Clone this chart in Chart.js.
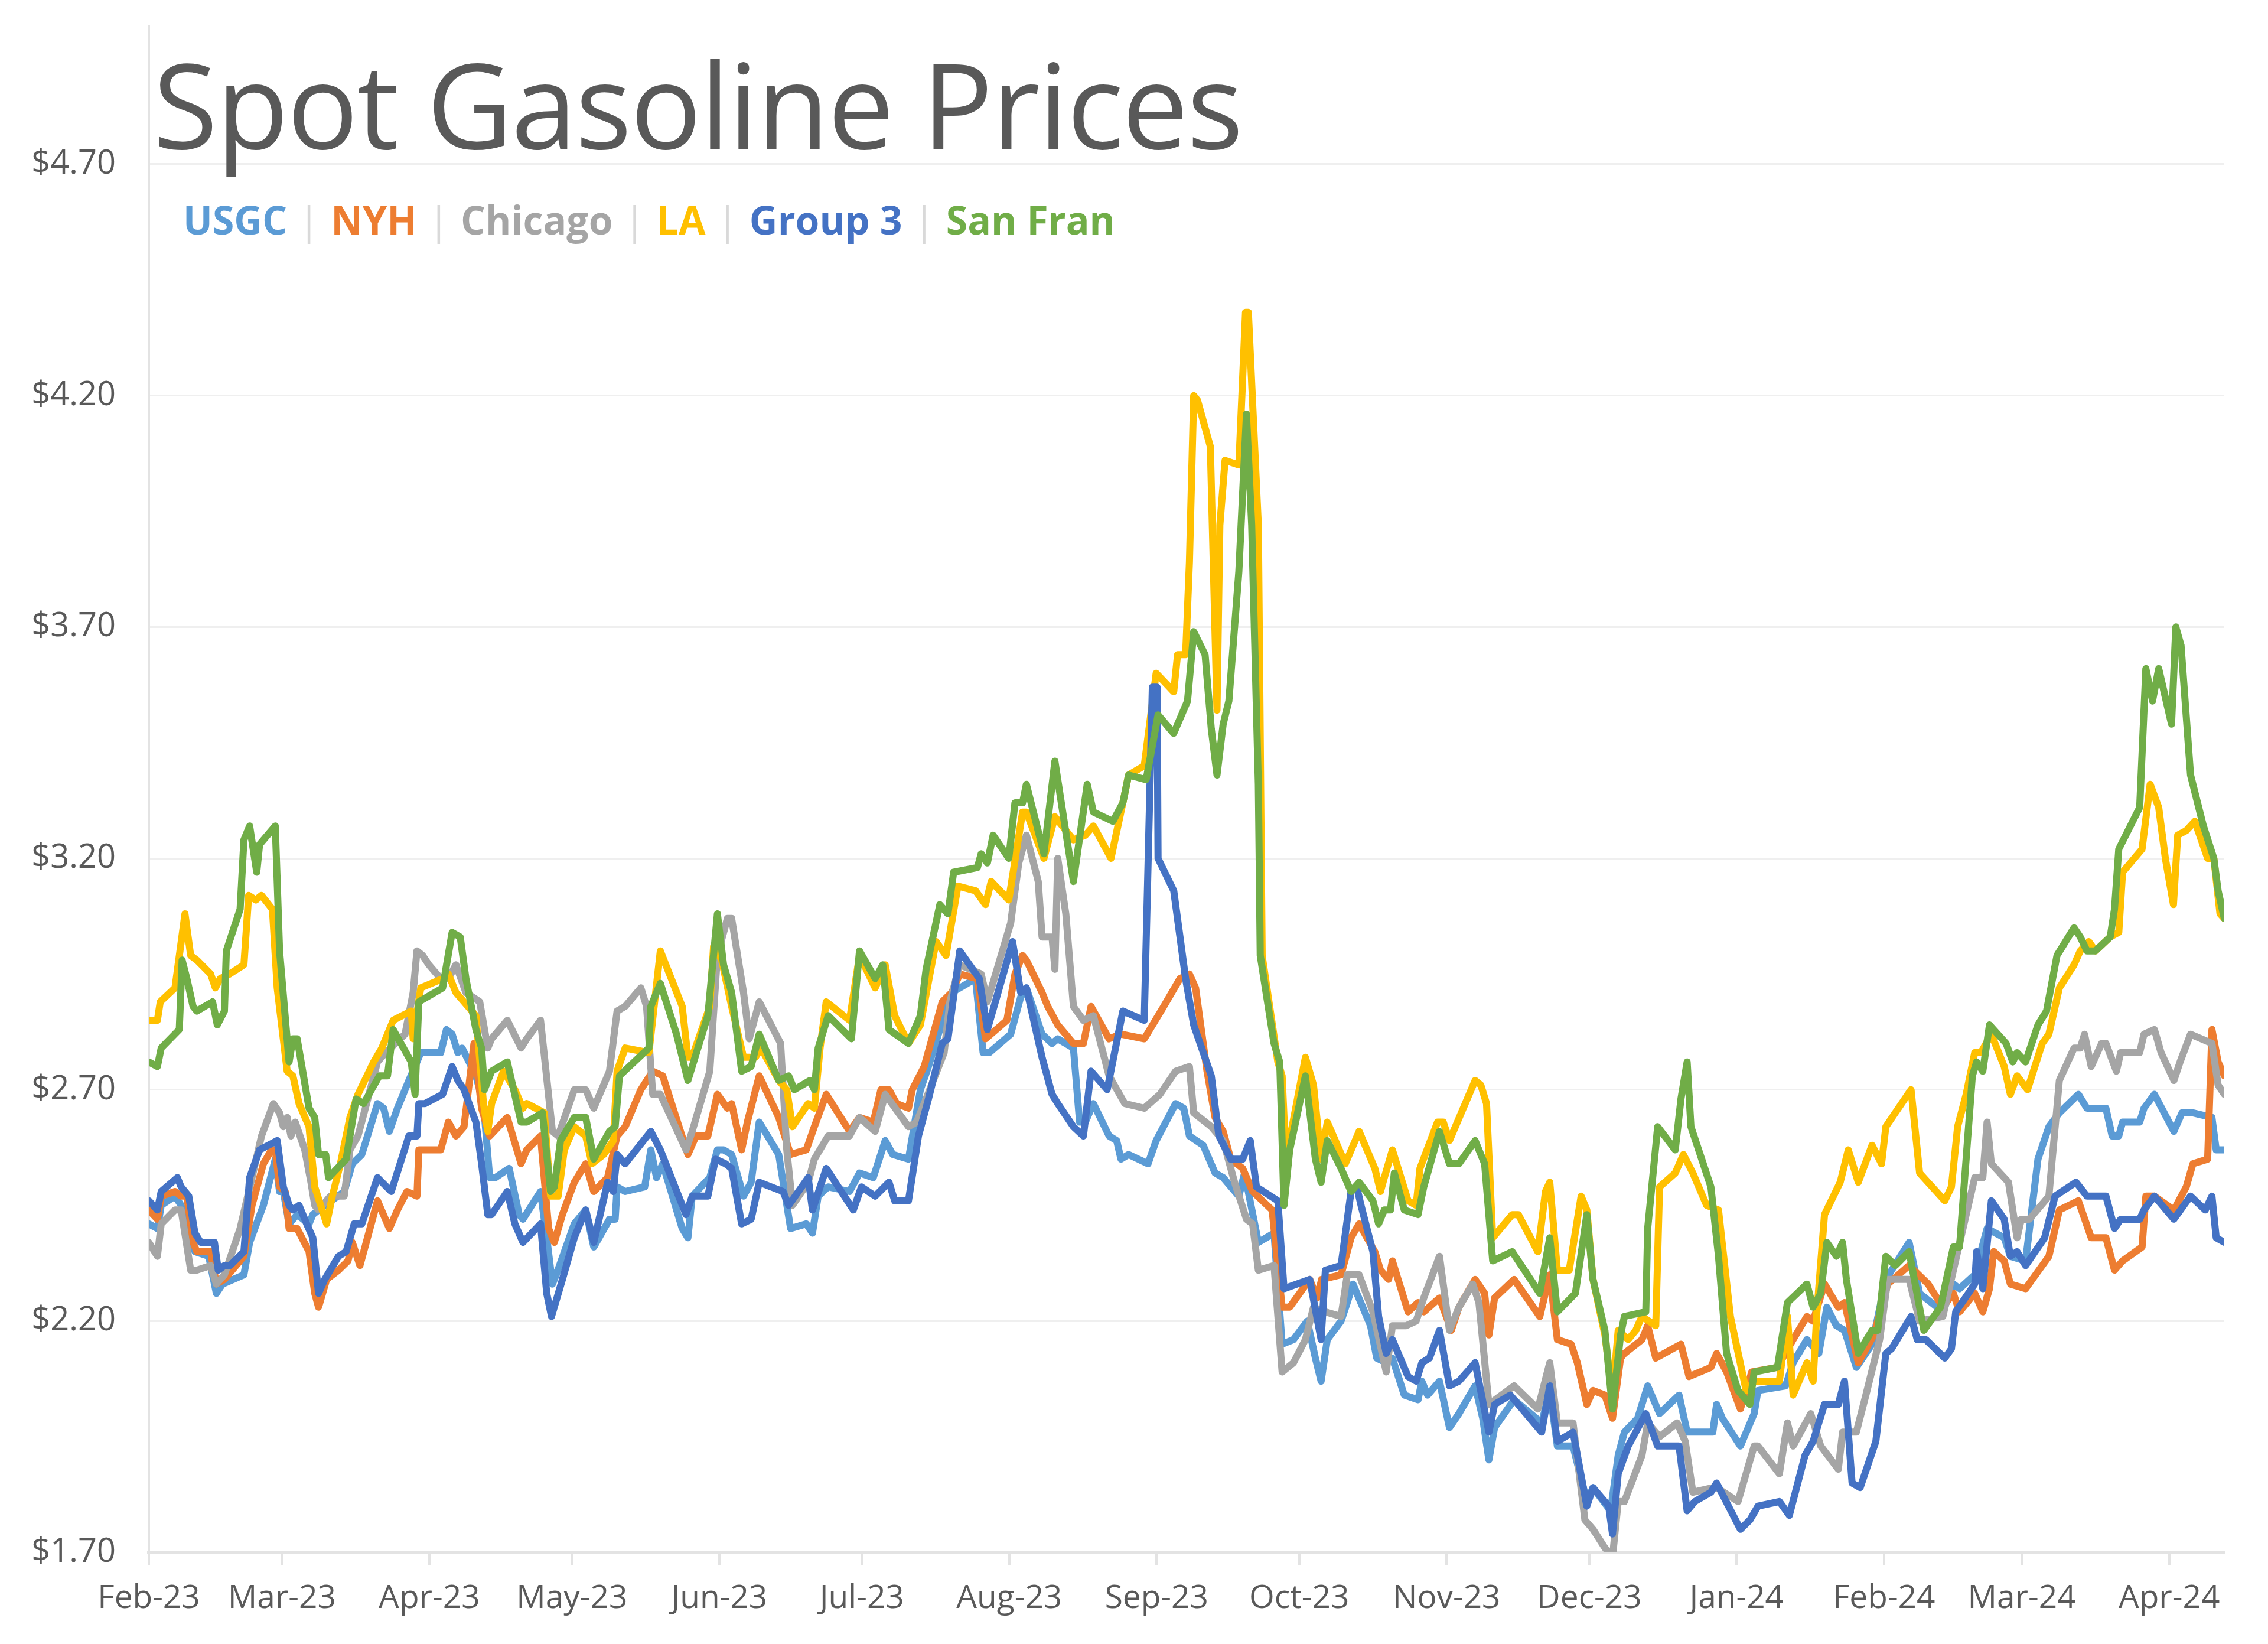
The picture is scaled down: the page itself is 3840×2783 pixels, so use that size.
<!DOCTYPE html>
<html>
<head>
<meta charset="utf-8">
<script src="https://cdn.jsdelivr.net/npm/chart.js@4.4.1/dist/chart.umd.min.js"></script>
<style>
  html, body { margin: 0; padding: 0; background: #fff; }
  #wrap { position: relative; width: 3840px; height: 2783px; overflow: hidden; }
  #chart { position: absolute; left: 0; top: 0; }
  #title {
    position: absolute; left: 259px; top: 75px;
    font-family: 'Open Sans', 'Noto Sans', sans-serif; font-size: 200px; line-height: 1;
    letter-spacing: -2.4px; color: #595959; white-space: nowrap;
  }
  #legend {
    position: absolute; left: 310px; top: 338px;
    font-family: 'Open Sans', 'Noto Sans', sans-serif; font-size: 66px; font-weight: 700; line-height: 1;
    white-space: nowrap; display: flex; align-items: baseline;
  }
  #legend .sep { color: #d9d9d9; font-weight: 400; margin: 0 19px; }
</style>
</head>
<body>
<div id="wrap">
  <canvas id="chart" width="3840" height="2783"></canvas>
  <div id="title">Spot Gasoline Prices</div>
  <div id="legend"></div>
</div>
<script>
// x values are days since 1 Feb 2023
const monthLabels = ['Feb-23', 'Mar-23', 'Apr-23', 'May-23', 'Jun-23', 'Jul-23', 'Aug-23', 'Sep-23',
                     'Oct-23', 'Nov-23', 'Dec-23', 'Jan-24', 'Feb-24', 'Mar-24', 'Apr-24'];
const yTicks = [1.70, 2.20, 2.70, 3.20, 3.70, 4.20, 4.70];
const yMin = 1.70;
const yMax = 5.00;
const lastDay = 436.6;

const seriesNames = ['USGC', 'NYH', 'Chicago', 'LA', 'Group 3', 'San Fran'];
const seriesColors = ['#5b9bd5', '#ed7d31', '#a5a5a5', '#ffc000', '#4472c4', '#70ad47'];

const usgcData = [[0,2.41],[1.8,2.40],[2.6,2.45],[5.5,2.47],[6.8,2.45],[7.6,2.42],[9.7,2.35],[12.6,2.34],[14.2,2.26],[15.5,2.28],[20,2.30],[21.2,2.37],[24.1,2.45],[26.6,2.55],[27.5,2.48],[28.3,2.48],[29.5,2.41],[31.2,2.43],[33.7,2.41],[34.5,2.43],[35.7,2.44],[41.1,2.48],[42.8,2.54],[44.8,2.56],[48.1,2.67],[49.4,2.66],[50.6,2.61],[52.3,2.66],[54.7,2.72],[56.4,2.76],[57.2,2.78],[61.4,2.78],[62.6,2.83],[63.8,2.82],[65,2.78],[65.9,2.79],[68.8,2.73],[70.4,2.67],[71.7,2.51],[72.9,2.51],[75.8,2.53],[77.9,2.43],[78.7,2.42],[82.4,2.48],[83.7,2.38],[84.9,2.28],[85.7,2.30],[89.5,2.41],[91.9,2.44],[93.6,2.36],[96.9,2.42],[98.1,2.42],[98.5,2.49],[100.2,2.48],[104.3,2.49],[105.6,2.57],[106.8,2.51],[108.1,2.54],[112.2,2.40],[113.4,2.38],[114.3,2.47],[118,2.51],[119.6,2.57],[120.9,2.57],[122.6,2.56],[125.1,2.47],[126.7,2.50],[128.4,2.63],[132.5,2.56],[135,2.40],[138.3,2.41],[139.6,2.39],[140.8,2.47],[142.9,2.49],[147.4,2.48],[149.5,2.52],[152.4,2.51],[154.9,2.59],[156.5,2.56],[159.8,2.55],[162.3,2.70],[164,2.75],[166.4,2.83],[168.9,2.91],[170.6,2.92],[173.9,2.94],[175.5,2.78],[176.8,2.78],[181.3,2.82],[183.4,2.90],[184.6,2.92],[187.9,2.82],[190,2.80],[191.2,2.81],[194.5,2.79],[195.8,2.63],[197,2.63],[198.7,2.67],[202,2.60],[203.6,2.59],[204.5,2.55],[206.1,2.56],[210.2,2.54],[211.9,2.59],[216,2.67],[217.7,2.66],[218.9,2.60],[221.8,2.58],[224.3,2.52],[226,2.51],[229.3,2.47],[230.5,2.52],[233.4,2.37],[236.7,2.39],[238.4,2.15],[240.8,2.16],[243.7,2.20],[245.4,2.12],[246.6,2.07],[247.9,2.16],[250.8,2.20],[252.1,2.24],[253.3,2.28],[257,2.19],[258.3,2.12],[260.3,2.11],[261.6,2.12],[264.1,2.04],[267,2.03],[267.8,2.07],[269,2.04],[271.5,2.07],[273.6,1.97],[275.6,2.00],[279,2.06],[280.6,1.99],[281.9,1.90],[283.1,1.97],[287.2,2.03],[293,1.98],[294.7,2.05],[296.3,1.93],[299.6,1.93],[302.5,1.81],[303.8,1.84],[307.5,1.79],[309.1,1.91],[310.4,1.96],[313.2,1.99],[315.3,2.06],[317.8,2.00],[321.9,2.04],[323.6,1.96],[329,1.96],[329.8,2.02],[331,1.99],[334.8,1.93],[337.7,2.00],[338.5,2.05],[344.3,2.06],[345.9,2.11],[348.8,2.16],[351.3,2.13],[353,2.23],[355,2.19],[356.7,2.18],[359.2,2.10],[362.5,2.15],[365.4,2.29],[370.3,2.37],[372.5,2.26],[377.4,2.22],[379.6,2.28],[380.9,2.27],[384.1,2.30],[386.7,2.40],[390.3,2.38],[391.6,2.34],[394.8,2.33],[397.4,2.55],[399.7,2.62],[401.9,2.65],[405.9,2.69],[407.7,2.66],[411.7,2.66],[413,2.60],[414.4,2.60],[415.2,2.63],[418.8,2.63],[419.7,2.66],[421.9,2.69],[426,2.61],[427.7,2.65],[430,2.65],[434,2.64],[434.9,2.57],[436.6,2.57]];

const nyhData = [[0,2.44],[1.8,2.42],[2.6,2.47],[5.5,2.48],[6.8,2.47],[8,2.47],[9.3,2.37],[10.1,2.35],[13,2.35],[14.2,2.28],[15.9,2.29],[20,2.34],[21.7,2.45],[24.1,2.54],[25.8,2.57],[26.6,2.57],[27.5,2.49],[28.7,2.48],[29.5,2.40],[31.2,2.40],[33.7,2.35],[34.9,2.26],[35.7,2.23],[37.4,2.29],[39.9,2.31],[41.9,2.33],[42.8,2.37],[44.4,2.32],[45.2,2.35],[48.1,2.46],[50.6,2.40],[52.3,2.44],[54.3,2.48],[56.4,2.47],[56.8,2.57],[61.4,2.57],[63,2.63],[64.6,2.60],[66.3,2.62],[68.4,2.80],[70,2.66],[71.7,2.60],[75.4,2.64],[78.3,2.54],[79.5,2.57],[82.4,2.60],[84.1,2.40],[85.3,2.37],[87,2.43],[89.5,2.50],[91.9,2.54],[93.6,2.48],[96.5,2.51],[98.5,2.60],[100.2,2.62],[103.5,2.70],[106,2.74],[108.1,2.73],[113.4,2.56],[115.1,2.60],[117.6,2.60],[119.6,2.69],[121.7,2.66],[122.6,2.67],[124.7,2.57],[125.9,2.63],[128.4,2.73],[132.5,2.64],[135,2.56],[138.3,2.57],[140,2.62],[142.5,2.69],[147.4,2.61],[149.5,2.64],[152.4,2.63],[154,2.70],[155.7,2.70],[157.3,2.67],[159.8,2.66],[160.6,2.70],[163.1,2.75],[166.9,2.89],[168.9,2.91],[170.6,2.95],[174.3,2.94],[176,2.81],[180.5,2.85],[182.2,2.95],[183.8,2.99],[184.6,2.98],[187.9,2.91],[189.1,2.88],[191.2,2.84],[194.5,2.80],[196.6,2.80],[198.2,2.88],[202,2.81],[204.5,2.82],[209.4,2.81],[213.5,2.88],[216.9,2.94],[218.9,2.95],[220.2,2.92],[222.6,2.74],[224.3,2.64],[226,2.61],[227.6,2.55],[230.1,2.53],[232.2,2.48],[236.3,2.44],[238.4,2.23],[240,2.23],[244.2,2.29],[245.8,2.25],[246.7,2.29],[250.8,2.30],[252.9,2.38],[254.6,2.41],[257.9,2.35],[259.1,2.31],[260.8,2.29],[261.6,2.33],[264.9,2.22],[267,2.24],[268.2,2.22],[271.5,2.25],[274,2.18],[275.6,2.23],[279,2.29],[281,2.26],[281.9,2.17],[283.1,2.25],[287.2,2.29],[292.6,2.21],[294.7,2.30],[296.3,2.16],[299.2,2.15],[300.5,2.11],[302.5,2.02],[303.8,2.05],[306.3,2.04],[307.9,1.99],[309.6,2.12],[310.4,2.13],[314.1,2.16],[315.3,2.19],[317,2.12],[322.3,2.15],[324,2.08],[328.6,2.10],[329.8,2.13],[331.9,2.09],[334.8,2.01],[337.2,2.09],[342.6,2.10],[345.9,2.16],[348.8,2.21],[350.1,2.20],[352.5,2.28],[355.4,2.23],[356.7,2.24],[359.6,2.11],[362.9,2.17],[365.8,2.28],[370.3,2.32],[374.3,2.28],[377.4,2.23],[379.6,2.26],[380.9,2.22],[384.1,2.26],[385.8,2.22],[387.2,2.27],[388.1,2.35],[390.3,2.33],[391.6,2.28],[394.8,2.27],[399.7,2.34],[401.9,2.44],[405.9,2.46],[408.6,2.38],[411.7,2.38],[413.5,2.31],[415.2,2.33],[419.3,2.36],[420.1,2.47],[421.9,2.47],[426,2.44],[428.6,2.49],[430,2.54],[433.1,2.55],[434,2.83],[435.3,2.76],[436.6,2.73]];

const chicagoData = [[0,2.37],[1.8,2.34],[2.6,2.41],[5.5,2.44],[6.8,2.44],[8.8,2.31],[10.1,2.31],[13,2.32],[14.2,2.28],[15.9,2.30],[19.2,2.40],[21.7,2.51],[23.7,2.60],[26.2,2.67],[27.5,2.65],[28.3,2.62],[29.1,2.64],[29.9,2.60],[30.8,2.63],[32.8,2.57],[34.1,2.50],[34.9,2.45],[35.7,2.44],[38.2,2.47],[41.1,2.47],[42.3,2.57],[44,2.60],[48.1,2.76],[49.8,2.78],[53.9,2.82],[55.6,2.91],[56.4,3.00],[57.6,2.99],[58.9,2.97],[61.4,2.94],[63,2.94],[64.6,2.97],[66.7,2.91],[69.6,2.89],[71.3,2.79],[72.1,2.81],[75.4,2.85],[78.3,2.79],[79.5,2.81],[82.4,2.85],[84.9,2.61],[86.1,2.60],[89.5,2.70],[91.9,2.70],[93.6,2.66],[96.9,2.74],[98.5,2.87],[100.2,2.88],[103.5,2.92],[104.7,2.88],[106,2.69],[107.6,2.69],[113,2.57],[114.3,2.61],[118,2.74],[119.6,2.99],[121.7,3.07],[122.6,3.07],[125.1,2.91],[126.3,2.81],[128.4,2.89],[132.9,2.80],[134.2,2.57],[135.4,2.45],[138.7,2.50],[140,2.55],[142.9,2.60],[147.4,2.60],[149.5,2.64],[152.8,2.61],[154.9,2.69],[159.8,2.62],[161.5,2.63],[163.5,2.68],[167.3,2.78],[168.5,2.89],[170.6,2.97],[175.1,2.95],[176.4,2.89],[181.3,3.06],[183,3.19],[184.6,3.25],[187.1,3.15],[187.9,3.03],[190,3.03],[190.6,2.96],[191.2,3.20],[192.9,3.08],[194.5,2.88],[196.6,2.85],[198.7,2.86],[202,2.73],[205.3,2.67],[209.4,2.66],[212.7,2.69],[216,2.74],[218.9,2.75],[219.8,2.65],[223.5,2.62],[226,2.59],[228.4,2.50],[230.9,2.42],[232.2,2.41],[233.4,2.31],[236.7,2.32],[238.4,2.09],[240.8,2.11],[243.3,2.16],[245,2.23],[247.5,2.22],[250.8,2.21],[252.1,2.30],[254.6,2.30],[257.5,2.22],[260.3,2.09],[261.6,2.19],[264.5,2.19],[266.6,2.20],[268.2,2.25],[271.5,2.34],[273.6,2.18],[275.6,2.23],[278.5,2.28],[279.8,2.24],[281.9,2.02],[287.2,2.06],[292.2,2.01],[294.7,2.11],[296.3,1.98],[299.6,1.98],[302.1,1.77],[303.8,1.75],[306.3,1.71],[307.9,1.69],[309.1,1.81],[310.4,1.81],[314.1,1.91],[315.3,1.98],[317.8,1.95],[321.5,1.98],[323.2,1.94],[324.8,1.83],[329,1.84],[329.8,1.84],[334.3,1.81],[337.7,1.93],[338.5,1.93],[343,1.87],[344.7,1.98],[345.9,1.93],[349.6,2.00],[351.7,1.93],[355.4,1.88],[356.3,1.96],[359.2,1.96],[361.2,2.04],[364.1,2.16],[365.8,2.29],[370.3,2.29],[372.5,2.20],[377.4,2.21],[380.5,2.35],[384.1,2.51],[385.8,2.51],[386.7,2.63],[387.6,2.54],[391.2,2.50],[393,2.38],[393.9,2.42],[395.6,2.42],[399.7,2.47],[401.9,2.72],[405,2.79],[406.3,2.79],[407.2,2.82],[408.6,2.75],[410.8,2.80],[411.7,2.80],[413.9,2.74],[414.8,2.78],[418.8,2.78],[419.7,2.82],[421.9,2.83],[423.3,2.78],[426,2.72],[427.3,2.76],[429.5,2.82],[434,2.80],[435.3,2.71],[436.6,2.69]];

const laData = [[0,2.85],[1.8,2.85],[2.4,2.89],[5.5,2.92],[7.6,3.08],[8.8,2.99],[10.1,2.98],[13,2.95],[14,2.92],[15,2.94],[17,2.95],[20,2.97],[21,3.12],[22.5,3.11],[23.7,3.12],[26,3.09],[27,2.92],[29.1,2.74],[30.3,2.73],[31.6,2.67],[33.7,2.62],[34.9,2.49],[37.4,2.41],[38.6,2.47],[40.3,2.54],[42.3,2.64],[44,2.69],[47.3,2.76],[49,2.79],[51.4,2.85],[55.2,2.87],[55.6,2.81],[57.2,2.92],[61.8,2.94],[63,2.95],[64.6,2.91],[68.8,2.86],[70.4,2.67],[71.3,2.61],[72.1,2.67],[74.6,2.74],[77,2.70],[78.7,2.66],[79.5,2.67],[83.2,2.65],[84.5,2.47],[86.1,2.47],[87.4,2.57],[89.5,2.62],[91.9,2.60],[93.2,2.54],[95.7,2.56],[97.7,2.59],[98.5,2.74],[100.2,2.79],[105.2,2.78],[107.6,3.00],[112.2,2.88],[113.4,2.77],[114.3,2.77],[118,2.88],[118.8,3.01],[120.5,2.98],[122.6,2.88],[125.1,2.77],[127.6,2.77],[128.8,2.79],[132.5,2.72],[134.2,2.70],[135.4,2.62],[138.7,2.67],[140,2.66],[141.2,2.79],[142.5,2.89],[147.4,2.85],[149.5,2.99],[152.8,2.92],[154.9,2.97],[156.9,2.86],[159.8,2.80],[162.3,2.84],[165.6,3.02],[167.7,2.99],[170.2,3.14],[173.9,3.13],[176,3.10],[177.2,3.15],[180.9,3.11],[183.8,3.30],[184.6,3.30],[188.3,3.20],[190.6,3.29],[194.5,3.24],[197,3.25],[198.7,3.27],[202.4,3.20],[204.9,3.32],[206.1,3.38],[209.4,3.40],[211.9,3.60],[215.6,3.56],[216.4,3.64],[218.1,3.64],[218.9,3.84],[219.8,4.20],[220.6,4.19],[223.3,4.09],[224.7,3.52],[225.3,3.92],[226.4,4.06],[229.3,4.05],[230.7,4.38],[231.3,4.38],[233.4,3.92],[234.2,2.99],[237.5,2.76],[238.4,2.73],[239.2,2.55],[243.3,2.77],[245,2.71],[246.6,2.55],[247.9,2.63],[251.7,2.54],[254.6,2.61],[257.9,2.53],[259.1,2.48],[259.9,2.51],[261.6,2.57],[264.9,2.46],[266.6,2.45],[267.4,2.53],[271.1,2.63],[272.3,2.63],[273.6,2.59],[279,2.72],[280.2,2.71],[281.4,2.67],[282.7,2.38],[286.8,2.43],[288.1,2.43],[292.2,2.35],[293.8,2.48],[294.7,2.50],[296.3,2.31],[298.8,2.31],[301.3,2.47],[302.5,2.44],[303.8,2.29],[306.3,2.17],[307.9,2.04],[309.1,2.18],[311.2,2.16],[312.8,2.18],[314.1,2.21],[317,2.19],[317.8,2.49],[321.1,2.52],[322.8,2.56],[324.8,2.52],[327.7,2.45],[330.2,2.44],[332.7,2.21],[336,2.05],[337.7,2.07],[343,2.07],[344.7,2.21],[345.9,2.04],[348.8,2.11],[350.1,2.07],[350.9,2.22],[352.5,2.43],[355.8,2.50],[357.5,2.57],[359.6,2.50],[362.5,2.58],[364.5,2.54],[365.4,2.62],[370.7,2.70],[372.5,2.52],[377.8,2.46],[379.2,2.49],[380.5,2.62],[382.3,2.69],[384.1,2.78],[385.4,2.78],[387.6,2.82],[390.3,2.75],[391.6,2.69],[393,2.73],[395.2,2.70],[398.3,2.80],[399.7,2.82],[401.9,2.92],[405,2.97],[406.3,3.00],[408.1,3.02],[409.5,3.00],[412.6,3.03],[414.4,3.04],[415.2,3.17],[419.3,3.22],[421,3.36],[422.8,3.31],[424.2,3.20],[425.9,3.10],[426.8,3.25],[428.6,3.26],[430.4,3.28],[433.1,3.20],[434.4,3.20],[435.7,3.08],[436.6,3.07]];

const group3Data = [[0,2.46],[1.8,2.44],[2.6,2.48],[6,2.51],[6.8,2.49],[8.4,2.47],[9.7,2.39],[10.9,2.37],[13.8,2.37],[14.6,2.31],[15.9,2.32],[17.1,2.32],[20,2.35],[21.2,2.51],[23.3,2.57],[27,2.59],[28.3,2.49],[29.5,2.45],[30.3,2.44],[31.6,2.45],[33.2,2.41],[34.5,2.38],[35.7,2.26],[37,2.29],[39.9,2.34],[41.5,2.35],[43.2,2.41],[44.8,2.41],[48.1,2.51],[51,2.48],[54.7,2.60],[56.4,2.60],[56.8,2.67],[58.1,2.67],[61.8,2.69],[63.8,2.75],[65,2.72],[66.3,2.70],[68.8,2.63],[70,2.54],[71.3,2.43],[72.1,2.43],[75.4,2.48],[77,2.41],[78.7,2.37],[82.4,2.41],[83.7,2.26],[84.7,2.21],[87,2.29],[89.5,2.38],[91.9,2.44],[93.6,2.37],[96.5,2.50],[97.7,2.48],[98.5,2.56],[100.2,2.54],[105.6,2.61],[107.6,2.57],[113,2.43],[114.3,2.47],[117.6,2.47],[119.2,2.55],[121.3,2.54],[122.6,2.53],[124.7,2.41],[126.7,2.42],[128.4,2.50],[133.4,2.48],[134.6,2.45],[138.7,2.51],[139.6,2.44],[142.5,2.53],[148.2,2.44],[149.9,2.49],[152.8,2.47],[155.7,2.50],[156.9,2.46],[159.8,2.46],[161.9,2.60],[164,2.68],[166.9,2.80],[168.1,2.81],[170.6,3.00],[174.7,2.94],[176.4,2.83],[181.7,3.02],[183.4,2.91],[184.6,2.92],[187.9,2.77],[190,2.69],[191.2,2.67],[194.5,2.62],[196.6,2.60],[198.2,2.74],[201.6,2.70],[204.9,2.87],[209.4,2.85],[211.1,3.57],[212.1,3.57],[212.3,3.20],[215.6,3.13],[218.1,2.94],[219.8,2.84],[223.5,2.73],[225.1,2.60],[227.6,2.55],[230.1,2.55],[231.7,2.59],[233,2.49],[237.5,2.46],[238.8,2.27],[244.2,2.29],[246.6,2.16],[247.5,2.31],[250.8,2.32],[252.9,2.48],[254.1,2.49],[255,2.45],[257.5,2.35],[258.7,2.21],[260.3,2.13],[261.6,2.16],[264.9,2.08],[266.6,2.07],[267.8,2.11],[269.4,2.12],[271.5,2.18],[273.6,2.06],[275.6,2.07],[279,2.11],[281.9,1.96],[283.1,2.02],[286.4,2.04],[293,1.96],[294.7,2.06],[296.3,1.94],[299.6,1.96],[302.5,1.80],[303.8,1.84],[307.1,1.80],[307.9,1.74],[309.1,1.87],[311.2,1.93],[314.9,2.00],[317.4,1.93],[321.9,1.93],[323.6,1.79],[325.2,1.81],[328.6,1.83],[329.8,1.85],[334.8,1.75],[336.8,1.77],[338.5,1.80],[343,1.81],[345.1,1.78],[348.4,1.91],[350.1,1.94],[352.5,2.02],[355.4,2.02],[356.7,2.07],[358.3,1.85],[360,1.84],[363.3,1.94],[365.4,2.13],[366.6,2.14],[370.7,2.21],[372,2.16],[373.8,2.16],[377.8,2.12],[379.2,2.14],[380.1,2.22],[384.1,2.28],[384.5,2.35],[385.8,2.27],[387.6,2.46],[390.3,2.42],[391.6,2.34],[393,2.35],[394.8,2.32],[398.8,2.38],[401,2.47],[405.4,2.50],[407.7,2.47],[411.7,2.47],[413.5,2.40],[414.8,2.42],[418.8,2.42],[419.7,2.44],[421.9,2.47],[426,2.42],[429.5,2.47],[432.6,2.44],[434,2.47],[434.9,2.38],[436.6,2.37]];

const sanFranData = [[0,2.76],[1.8,2.75],[2.6,2.79],[6.4,2.83],[7,2.98],[8,2.94],[9.3,2.88],[10.1,2.87],[13.4,2.89],[14.4,2.84],[15.9,2.87],[16.3,3.00],[19.2,3.09],[20,3.24],[21.2,3.27],[22.7,3.17],[23.3,3.23],[26.6,3.27],[27.5,3.00],[29.5,2.76],[30.3,2.81],[31.2,2.81],[33.7,2.66],[34.9,2.64],[35.7,2.56],[37.2,2.56],[37.8,2.51],[41.5,2.55],[43.6,2.68],[45.2,2.67],[48.5,2.73],[50.2,2.73],[51.4,2.83],[55.2,2.76],[56,2.69],[56.8,2.89],[61.8,2.92],[63.8,3.04],[65.5,3.03],[66.7,2.94],[68.8,2.83],[70,2.79],[70.6,2.70],[72.1,2.74],[75.4,2.76],[78.3,2.63],[79.5,2.63],[82.8,2.65],[84.5,2.48],[85.3,2.49],[86.6,2.59],[89.5,2.64],[91.9,2.64],[93.6,2.55],[96.9,2.61],[98.1,2.62],[99,2.73],[105.2,2.79],[105.6,2.88],[107.6,2.93],[111,2.82],[113.4,2.72],[114.3,2.75],[117.6,2.86],[119.6,3.08],[120.9,2.97],[122.6,2.91],[124.7,2.74],[126.7,2.75],[128.4,2.82],[132.5,2.72],[134.6,2.73],[135.8,2.70],[139.1,2.72],[140,2.70],[140.8,2.79],[142.9,2.86],[147.8,2.81],[149.5,3.00],[152.8,2.94],[154.4,2.97],[155.7,2.83],[159.8,2.80],[162.3,2.86],[163.5,2.96],[166.4,3.10],[168.1,3.08],[169.3,3.17],[174.3,3.18],[175.1,3.21],[176.4,3.19],[177.6,3.25],[180.9,3.20],[182.2,3.32],[183.8,3.32],[184.6,3.36],[188.3,3.21],[190.6,3.41],[194.5,3.15],[197.4,3.36],[198.7,3.30],[202.8,3.28],[204.9,3.32],[206.1,3.38],[209.8,3.37],[212.3,3.51],[215.6,3.47],[218.5,3.54],[219.8,3.69],[222.2,3.64],[223.5,3.48],[224.7,3.38],[226,3.49],[227.2,3.54],[229.3,3.82],[230.9,4.16],[232,3.92],[233.4,3.36],[233.8,2.99],[236.7,2.80],[237.9,2.76],[238.8,2.45],[240,2.57],[243.3,2.73],[245.4,2.55],[246.6,2.50],[247.9,2.59],[250.8,2.53],[252.9,2.48],[254.6,2.50],[257.5,2.46],[258.7,2.41],[259.9,2.44],[261.2,2.44],[262,2.52],[264.1,2.44],[267,2.43],[268.2,2.49],[271.5,2.61],[273.6,2.54],[275.6,2.54],[279,2.59],[281,2.54],[282.7,2.33],[286.8,2.35],[292.6,2.26],[294.7,2.38],[296.3,2.22],[300.1,2.26],[302.5,2.43],[303.8,2.29],[306.3,2.18],[307.9,2.01],[309.6,2.17],[310.4,2.21],[314.9,2.22],[315.3,2.40],[317.4,2.62],[321.1,2.57],[322.3,2.68],[323.6,2.76],[324.4,2.62],[328.6,2.49],[330.2,2.34],[331.9,2.13],[334.3,2.05],[336.8,2.02],[337.7,2.09],[342.6,2.10],[344.7,2.24],[348.8,2.28],[350.1,2.23],[351.7,2.26],[353,2.37],[355,2.34],[356.3,2.37],[357.1,2.29],[359.6,2.13],[362.5,2.18],[363.7,2.18],[365.4,2.34],[367.4,2.32],[370.3,2.35],[373.4,2.18],[376.9,2.23],[379.6,2.36],[380.9,2.36],[383.6,2.73],[384.5,2.76],[385.8,2.74],[387.2,2.84],[390.7,2.80],[392.1,2.76],[393,2.78],[394.8,2.76],[397.4,2.84],[399.2,2.87],[401.4,2.99],[405,3.05],[406.3,3.03],[407.7,3.00],[409.5,3.00],[412.6,3.03],[413.5,3.09],[414.4,3.22],[418.8,3.31],[420.1,3.61],[421.5,3.54],[422.8,3.61],[425.5,3.49],[426.4,3.70],[427.5,3.66],[429.5,3.38],[432.2,3.27],[434.4,3.20],[435.3,3.13],[436.6,3.07]];

const allSeries = [usgcData, nyhData, chicagoData, laData, group3Data, sanFranData];

// month start positions, counted in days from 1 Feb 2023
const monthDays = monthLabels.map((label, i) => {
    const d = Date.UTC(2023, 1 + i, 1);
    return Math.round((d - Date.UTC(2023, 1, 1)) / 86400000);
});

// legend row of coloured names with thin separators
const legendEl = document.getElementById('legend');
seriesNames.forEach((name, i) => {
    if (i > 0) {
        const sep = document.createElement('span');
        sep.className = 'sep';
        sep.textContent = '|';
        legendEl.appendChild(sep);
    }
    const span = document.createElement('span');
    span.textContent = name;
    span.style.color = seriesColors[i];
    legendEl.appendChild(span);
});

const fontFamily = "'Open Sans', 'Noto Sans', sans-serif";
const textColor = '#595959';
const axisColor = '#e3e3e3';

const datasets = allSeries.map((points, i) => ({
    label: seriesNames[i],
    data: points.map(p => ({ x: p[0], y: p[1] })),
    borderColor: seriesColors[i],
    backgroundColor: seriesColors[i],
    borderWidth: 12,
    pointRadius: 0,
    tension: 0,
    fill: false,
    borderJoinStyle: 'round',
    borderCapStyle: 'round',
    order: seriesNames.length - 1 - i
}));

new Chart(document.getElementById('chart'), {
    type: 'line',
    data: { datasets: datasets },
    options: {
        responsive: false,
        animation: false,
        devicePixelRatio: 1,
        layout: { padding: { top: 43, right: 74, bottom: 0, left: 0 } },
        plugins: {
            legend: { display: false },
            title: { display: false },
            tooltip: { enabled: false }
        },
        scales: {
            x: {
                type: 'linear',
                min: 0,
                max: lastDay,
                afterBuildTicks: scale => { scale.ticks = monthDays.map(v => ({ value: v })); },
                afterFit: scale => { scale.height = 155; },
                ticks: {
                    autoSkip: false,
                    maxRotation: 0,
                    padding: 24,
                    font: { family: fontFamily, size: 55 },
                    color: textColor,
                    callback: (value, index) => monthLabels[index]
                },
                grid: { drawOnChartArea: false, drawTicks: true, tickLength: 21, color: axisColor, lineWidth: 4 },
                border: { display: true, color: axisColor, width: 6 }
            },
            y: {
                min: yMin,
                max: yMax,
                afterBuildTicks: scale => { scale.ticks = yTicks.map(v => ({ value: v })); },
                afterFit: scale => {
                    scale.width = 252;
                    // no extra room for the end labels: the axis runs up to the title
                    scale.paddingTop = 0;
                    scale.paddingBottom = 0;
                },
                ticks: {
                    padding: 56,
                    font: { family: fontFamily, size: 56 },
                    color: textColor,
                    callback: value => '$' + value.toFixed(2)
                },
                grid: { drawTicks: false, color: '#efefef', lineWidth: 3 },
                border: { display: true, color: axisColor, width: 3 }
            }
        }
    }
});
</script>
</body>
</html>
